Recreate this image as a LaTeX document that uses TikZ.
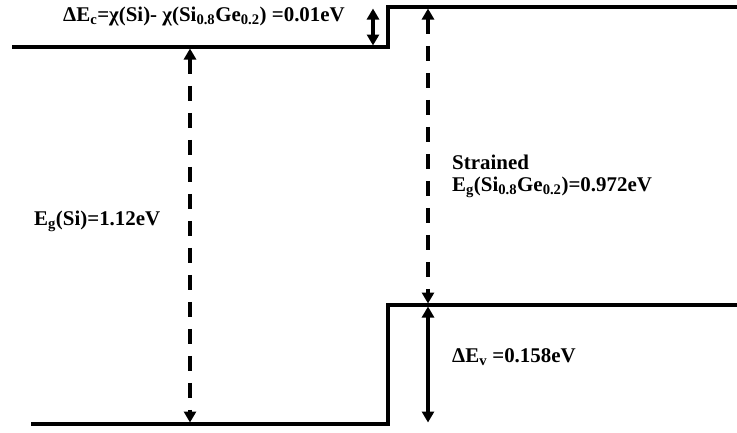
\documentclass[tikz,border=0pt]{standalone}
\usepackage{fontspec}
\setmainfont{Liberation Serif}
\usetikzlibrary{arrows.meta}
\begin{document}
\begin{tikzpicture}[x=1bp,y=-1bp,
  band/.style={line width=3.2bp},
  tip/.tip={Triangle[width=12bp,length=11bp]},
  harrow/.style={line width=3.4bp,tip-tip},
  dasharrow/.style={line width=3.6bp,tip-tip,dash pattern=on 15bp off 12bp},
  lbl/.style={font=\fontsize{21}{25}\selectfont\bfseries,inner sep=0pt,anchor=west}]
\useasboundingbox (0,0) rectangle (737,432);
% band edges
\coordinate (ecl) at (12,47);
\coordinate (ecs) at (388,47);
\coordinate (ecu) at (388,7);
\coordinate (ecr) at (737,7);
\coordinate (evl) at (31,424);
\coordinate (evs) at (388,424);
\coordinate (evu) at (388,305);
\coordinate (evr) at (737,305);
\draw[band] (ecl) -- (ecs) -- (ecu) -- (ecr);
\draw[band] (evl) -- (evs) -- (evu) -- (evr);
% arrow end points
\coordinate (a1t) at (373,8.5);
\coordinate (a1b) at (373,45.5);
\coordinate (a2t) at (190,48.5);
\coordinate (a2b) at (190,422.5);
\coordinate (a3t) at (428,8.5);
\coordinate (a3b) at (428,303.5);
\coordinate (a4t) at (428,306.5);
\coordinate (a4b) at (428,422.5);
\draw[harrow] (a1t) -- (a1b);
\draw[dasharrow] (a2t) -- (a2b);
\draw[dasharrow] (a3t) -- (a3b);
\draw[harrow] (a4t) -- (a4b);
% labels
\node[lbl] (dec) at (63,16) {ΔE\textsubscript{c}=χ(Si)- χ(Si\textsubscript{0.8}Ge\textsubscript{0.2}) =0.01eV};
\node[lbl] (egsi) at (34,221) {E\textsubscript{g}(Si)=1.12eV};
\node[lbl] (str) at (452,162) {Strained};
\node[lbl] (egsige) at (452,187) {E\textsubscript{g}(Si\textsubscript{0.8}Ge\textsubscript{0.2})=0.972eV};
\node[lbl] (dev) at (452,357) {ΔE\textsubscript{v} =0.158eV};
\end{tikzpicture}
\end{document}
